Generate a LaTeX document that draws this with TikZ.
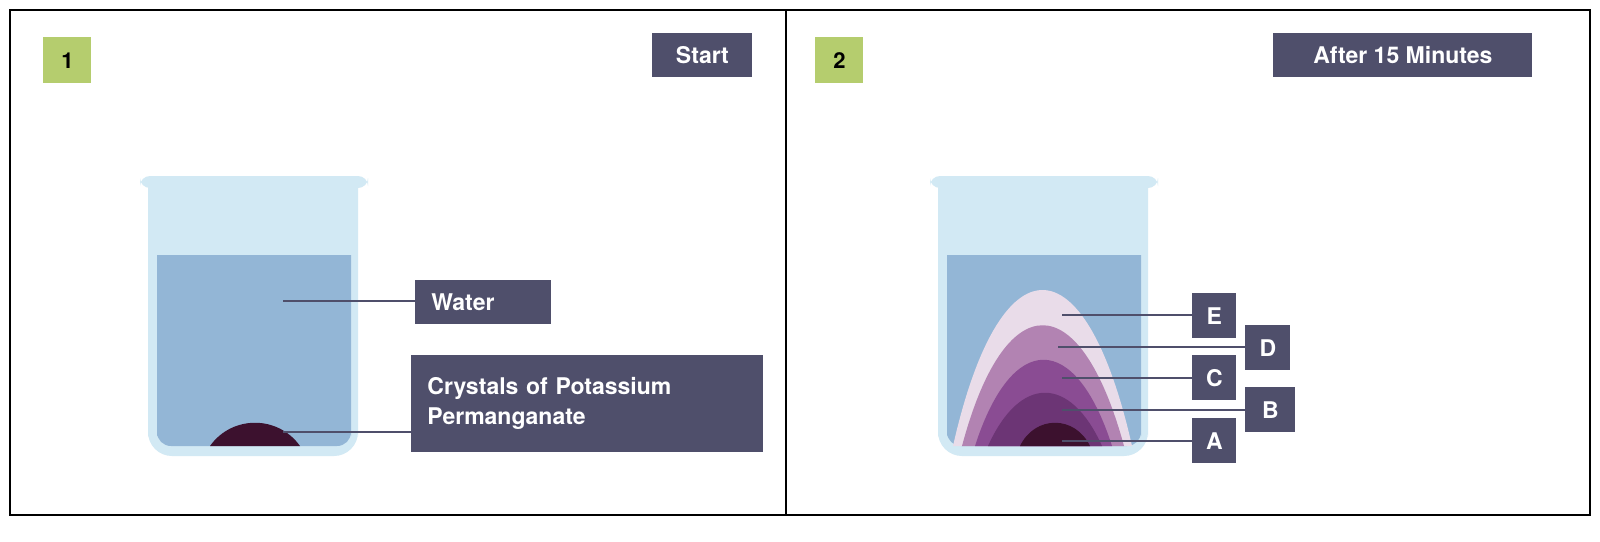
\documentclass[tikz,border=0pt]{standalone}
\usepackage{fontspec}
\setmainfont{TeX Gyre Heros}
\definecolor{glass}{HTML}{D2E9F4}
\definecolor{water}{HTML}{93B6D6}
\definecolor{lab}{HTML}{4F4F6B}
\definecolor{grn}{HTML}{B5CD6E}
\definecolor{cA}{HTML}{3C112E}
\definecolor{cB}{HTML}{6C3575}
\definecolor{cC}{HTML}{8A4C93}
\definecolor{cD}{HTML}{B283B2}
\definecolor{cE}{HTML}{E9DCE9}
\begin{document}
\begin{tikzpicture}[x=0.5pt,y=-0.5pt,
 lbl/.style={fill=lab,text=white,font=\fontsize{11.5}{13}\selectfont\bfseries,inner sep=0pt,anchor=north west},
 num/.style={fill=grn,text=black,font=\fontsize{11}{13}\selectfont\bfseries,inner sep=0pt,anchor=north west,minimum width=24pt,minimum height=23pt},
 lead/.style={draw=lab,line width=1.2pt}]
\useasboundingbox (0,0) rectangle (1600,541);
\fill[white] (0,0) rectangle (1600,541);
\draw[line width=0.8pt] (10,10) rectangle (786,515);
\draw[line width=0.8pt] (786,10) rectangle (1590,515);
\foreach \dx in {0,790}{
 \begin{scope}[shift={(\dx,0)}]
 \fill[glass] (148,182) -- (148,436) [rounded corners=12pt] -- (148,456) -- (358,456) [sharp corners] -- (358,436) -- (358,182) -- cycle;
 \fill[glass,rounded corners=5pt] (140,176) rectangle (368,188);
 \fill[water] (157,255) -- (157,436) [rounded corners=7pt] -- (157,446) -- (351,446) [sharp corners] -- (351,436) -- (351,255) -- cycle;
 \end{scope}}
% left crystals
\fill[cA] (210,446) .. controls (232,415) and (278,415) .. (300,446) -- cycle;
% right plumes
\fill[cE] (953,446) .. controls (1000,238) and (1085,238) .. (1132,446) -- cycle;
\fill[cD] (962,446) .. controls (1005,285) and (1080,285) .. (1124,446) -- cycle;
\fill[cC] (975,446) .. controls (1012,331) and (1075,331) .. (1112,446) -- cycle;
\fill[cB] (988,446) .. controls (1020,375) and (1070,375) .. (1102,446) -- cycle;
\fill[cA] (1020,446) .. controls (1035,415) and (1075,415) .. (1090,446) -- cycle;
% labels
\node[num] (n1) at (43,37) {1};
\node[num] (n2) at (815,37) {2};
\node[lbl,minimum width=50pt,minimum height=22pt] (st) at (652,33) {Start};
\node[lbl,minimum width=129.5pt,minimum height=22pt] (af) at (1273,33) {After 15 Minutes};
\node[lbl,minimum width=60pt,minimum height=22pt,align=left,text width=52pt,inner xsep=8pt] (w) at (415,280) {Water};
\node[lbl,minimum width=169.5pt,minimum height=48.5pt,align=left,text width=160pt,inner xsep=8pt,font=\fontsize{11.5}{15}\selectfont\bfseries] (cr) at (411,355) {Crystals of Potassium\\Permanganate};
\coordinate (pw) at (283,301); \coordinate (pc) at (283,432);
\draw[lead] (pw) -- (pw -| w.west); \draw[lead] (pc) -- (pc -| cr.west);
\node[lbl,minimum width=22pt,minimum height=22.5pt] (E) at (1192,293) {E};
\node[lbl,minimum width=22.5pt,minimum height=22.5pt] (D) at (1245,325) {D};
\node[lbl,minimum width=22pt,minimum height=22.5pt] (C) at (1192,355) {C};
\node[lbl,minimum width=25pt,minimum height=22.5pt] (B) at (1245,387) {B};
\node[lbl,minimum width=22pt,minimum height=22.5pt] (A) at (1192,418) {A};
\coordinate (pE) at (1062,315); \coordinate (pD) at (1058,347); \coordinate (pC) at (1062,378);
\coordinate (pB) at (1062,410); \coordinate (pA) at (1062,441);
\draw[lead] (pE) -- (pE -| E.west); \draw[lead] (pD) -- (pD -| D.west);
\draw[lead] (pC) -- (pC -| C.west); \draw[lead] (pB) -- (pB -| B.west);
\draw[lead] (pA) -- (pA -| A.west);
\end{tikzpicture}
\end{document}
